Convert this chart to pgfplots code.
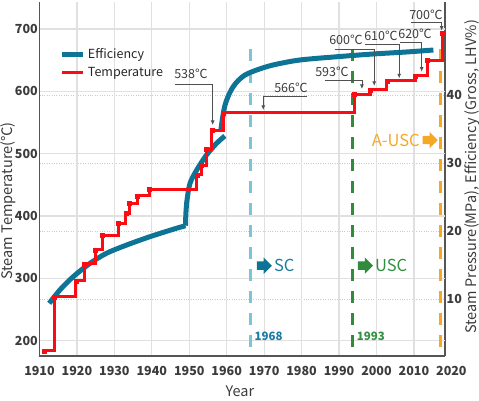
\documentclass[border=0pt]{standalone}
\usepackage{fontspec}
\setmainfont{Noto Sans CJK KR}
\usepackage{pgfplots}
\pgfplotsset{compat=1.18}
\usetikzlibrary{arrows.meta,shapes.arrows}
\definecolor{spine}{RGB}{85,85,85}
\definecolor{gridc}{RGB}{224,224,224}
\definecolor{dotc}{RGB}{205,205,205}
\definecolor{tickc}{RGB}{60,60,60}
\definecolor{effblue}{RGB}{13,116,150}
\definecolor{tempred}{RGB}{250,12,20}
\definecolor{dashblue}{RGB}{125,196,214}
\definecolor{dashgreen}{RGB}{48,140,60}
\definecolor{dashorange}{RGB}{245,168,35}
\definecolor{txtblue}{RGB}{28,125,160}
\definecolor{txtgreen}{RGB}{50,145,65}
\definecolor{annot}{RGB}{80,80,80}
\definecolor{annottext}{RGB}{60,60,60}
\newcommand{\tickfont}{\fontsize{12.5}{14}\selectfont\bfseries}
\newcommand{\labfont}{\fontsize{14.5}{16}\selectfont}
\newcommand{\annfont}{\fontsize{12.5}{14}\selectfont}
\newcommand{\bigfont}{\fontsize{16.5}{18}\selectfont}
\tikzset{blockarrow/.style={single arrow, draw=none, fill=#1, minimum height=15pt, inner xsep=0pt, inner ysep=4pt, single arrow head extend=4pt, anchor=west}}
\begin{document}
\begin{tikzpicture}
\useasboundingbox (0,0) rectangle (479pt,400pt);
% right axis (pressure / efficiency scale)
\begin{axis}[
  at={(39.5pt,44pt)}, anchor=south west, scale only axis,
  width=405.5pt, height=354pt,
  xmin=1910, xmax=2018.3, ymin=1.618, ymax=53.68,
  axis x line=none, axis y line*=right,
  axis line style={-, draw=spine, line width=1.2pt},
  ytick={10,20,30,40}, major tick length=0pt,
  ymajorgrids, major grid style={draw=dotc, dotted, line width=1pt},
  /pgf/number format/assume math mode=true,
  yticklabel style={font=\tickfont, text=tickc, inner sep=1.5pt},
  ylabel={Steam Pressure(MPa), Efficiency (Gross, LHV\%)},
  ylabel style={font=\labfont, text=tickc, at={(axis description cs:1.066,0.506)}, anchor=center},
]
\addplot[draw=none, forget plot] coordinates {(1910,10) (2018,40)};
\end{axis}
% main axis
\begin{axis}[
  at={(39.5pt,44pt)}, anchor=south west, scale only axis,
  width=405.5pt, height=354pt,
  xmin=1910, xmax=2018.3, ymin=175.5, ymax=743.4,
  axis x line*=bottom, axis y line*=left,
  axis line style={-, draw=spine, line width=1.2pt},
  xtick={1910,1920,...,2010}, ytick={200,300,...,700},
  major tick length=0pt,
  xmajorgrids, ymajorgrids, major grid style={draw=gridc, line width=1.2pt},
  /pgf/number format/assume math mode=true,
  /pgf/number format/1000 sep={},
  xticklabel style={font=\tickfont, text=tickc, yshift=-7pt},
  yticklabel style={font=\tickfont, text=tickc, inner sep=1.5pt},
  xlabel={Year}, ylabel={Steam Temperature(℃)},
  xlabel style={font=\labfont, text=tickc, at={(axis description cs:0.494,-0.101)}, anchor=center},
  ylabel style={font=\labfont, text=tickc, at={(axis description cs:-0.078,0.438)}, anchor=center},
  clip=false,
  legend style={at={(axis description cs:0.05,0.874)}, anchor=north west, draw=none, fill=none,
    font=\fontsize{12.5}{15}\selectfont, row sep=3pt, inner sep=0pt, text=black!85},
  legend cell align=left,
  legend image code/.code={\draw[#1] (0pt,0pt) -- (21pt,0pt);},
]
% reference dashed lines
\addplot[forget plot, draw=dashblue, line width=3pt, dash pattern=on 12pt off 10pt] coordinates {(1966.4,190) (1966.4,679.4)};
\addplot[forget plot, draw=dashgreen, line width=3pt, dash pattern=on 12pt off 10pt] coordinates {(1993.6,190) (1993.6,682)};
\addplot[forget plot, draw=dashorange, line width=3pt, dash pattern=on 12pt off 10pt] coordinates {(2017.2,190) (2017.2,670)};
% efficiency curve
\addplot[draw=effblue, line width=5pt, line join=round, smooth] coordinates {
(1912.6,260.0) (1915.5,281.8) (1919.0,302.7) (1923.5,324.2) (1927.9,340.3)
(1933.3,353.6) (1939.5,366.9) (1945.7,378.8) (1949.0,384.5)
};
\addlegendentry{Efficiency}
\addplot[forget plot, draw=effblue, line width=5pt, line join=round, smooth] coordinates {
(1949.0,384.5) (1949.1,404.4) (1949.4,425.8) (1950.2,452.6) (1952.0,473.9) (1954.6,498.0)
(1957.3,516.7) (1959.5,528.5)
};
\addplot[forget plot, draw=effblue, line width=5pt, line join=round, smooth] coordinates {
(1958.4,536.0) (1958.9,558.0) (1959.5,577.0) (1960.2,589.4) (1961.2,602.3)
(1962.7,615.1) (1964.9,626.3) (1968.0,634.3) (1972.4,642.4) (1979.6,650.4)
(1990.3,656.0) (1999.1,660.0) (2008.0,663.2) (2015.2,666.4)
};
% temperature steps
\addplot[const plot, draw=tempred, line width=3pt, mark=square*, mark size=2pt,
  mark options={fill=tempred, draw=tempred, line width=0.4pt}] coordinates {
(1911.2,184.0) (1913.9,270.6) (1919.7,296.3) (1921.9,323.1) (1925.0,345.6)
(1926.7,369.6) (1931.0,388.4) (1933.1,404.4) (1934.0,420.5) (1936.1,432.2)
(1939.3,442.9) (1952.0,465.9) (1953.3,481.9) (1954.6,507.1) (1956.0,537.0)
(1959.1,565.8) (1994.0,595.8) (1998.3,602.3) (2002.8,616.7) (2010.3,624.7)
(2013.6,649.3) (2017.6,693.0)
};
\addlegendentry{Temperature}
% callout lines
\addplot[forget plot, draw=annot, line width=0.8pt, -{Latex[length=4.5pt,width=4pt]}] coordinates {(1946.18,611.9) (1956.25,611.9) (1956.25,546.1)};
\addplot[forget plot, draw=annot, line width=0.8pt, -{Latex[length=4.5pt,width=4pt]}] coordinates {(1981.35,592.6) (1969.76,592.6) (1969.76,570.2)};
\addplot[forget plot, draw=annot, line width=0.8pt, -{Latex[length=4.5pt,width=4pt]}] coordinates {(1986.23,618.3) (1996.11,618.3) (1996.11,603.9)};
\addplot[forget plot, draw=annot, line width=0.8pt, -{Latex[length=4.5pt,width=4pt]}] coordinates {(1988.9,668) (1999.4,668) (1999.4,608.7)};
\addplot[forget plot, draw=annot, line width=0.8pt, -{Latex[length=4.5pt,width=4pt]}] coordinates {(1996.9,675.6) (2006.07,675.6) (2006.07,621)};
\addplot[forget plot, draw=annot, line width=0.8pt, -{Latex[length=4.5pt,width=4pt]}] coordinates {(2006.26,678.8) (2012.06,678.8) (2012.06,631.6)};
\addplot[forget plot, draw=annot, line width=0.8pt, -{Latex[length=4.5pt,width=4pt]}] coordinates {(2009.2,710.2) (2017.4,710.2) (2017.4,697.4)};
% callout texts
\node[font=\annfont, text=annottext] at (axis cs:1950.45,627.9) {538℃};
\node[font=\annfont, text=annottext] at (axis cs:1977.16,605.0) {566℃};
\node[font=\annfont, text=annottext] at (axis cs:1988.1,631.6) {593℃};
\node[font=\annfont, text=annottext] at (axis cs:1991.84,682.5) {600℃};
\node[font=\annfont, text=annottext] at (axis cs:2001.19,688.9) {610℃};
\node[font=\annfont, text=annottext] at (axis cs:2010.28,692.1) {620℃};
\node[font=\annfont, text=annottext] at (axis cs:2013.2,722.6) {700℃};
% year labels
\node[font=\fontsize{11.5}{13}\selectfont\bfseries, text=txtblue, anchor=west, inner sep=0pt] at (axis cs:1967.4,206.5) {1968};
\node[font=\fontsize{11.5}{13}\selectfont\bfseries, text=txtgreen, anchor=west, inner sep=0pt] at (axis cs:1994.7,206.5) {1993};
% era arrows and labels
\node[blockarrow=effblue] at (axis cs:1968,320.4) {};
\node[font=\bigfont, text=txtblue, anchor=west, inner sep=0pt] at (axis cs:1972.6,320.4) {SC};
\node[blockarrow=dashgreen] at (axis cs:1995,320.4) {};
\node[font=\bigfont, text=txtgreen, anchor=west, inner sep=0pt] at (axis cs:1999.6,320.4) {USC};
\node[blockarrow=dashorange] at (axis cs:2012.3,522) {};
\node[font=\bigfont, text=dashorange, anchor=east, inner sep=0pt] at (axis cs:2011.6,522) {A-USC};
% tick label beyond the axis end
\node[font=\tickfont, text=tickc, anchor=north, yshift=-7pt] at (axis cs:2020,175.5) {2020};
\end{axis}
\end{tikzpicture}
\end{document}
